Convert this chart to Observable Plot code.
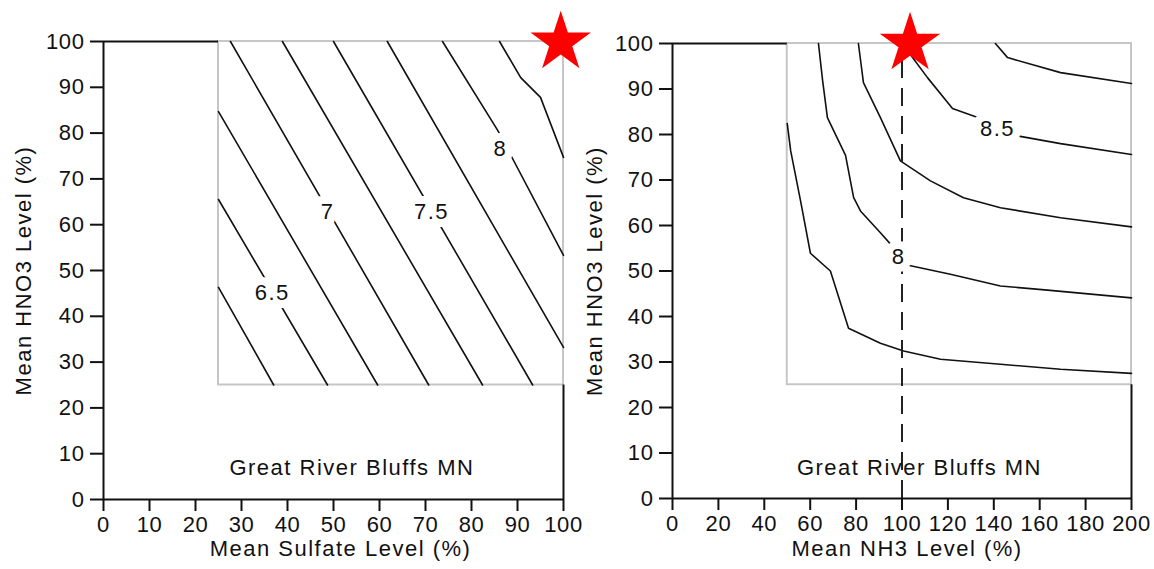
<!DOCTYPE html>
<html>
<head>
<meta charset="utf-8">
<script src="https://cdn.jsdelivr.net/npm/d3@7"></script>
<script src="https://cdn.jsdelivr.net/npm/@observablehq/plot@0.6"></script>
<style>
  body { margin: 0; background: #fff; }
  #wrap { display: flex; width: 1154px; height: 569px; }
  #wrap svg { flex: none; max-width: none; }
  #wrap text { letter-spacing: 1.5px; }
  #wrap g[aria-label$="tick label"] text { letter-spacing: 0.6px; }
</style>
</head>
<body>
<div id="wrap"></div>
<script>
// ---------- data ----------
const yTicks = [0, 10, 20, 30, 40, 50, 60, 70, 80, 90, 100];
const sulfateTicks = [0, 10, 20, 30, 40, 50, 60, 70, 80, 90, 100];
const nh3Ticks = [0, 20, 40, 60, 80, 100, 120, 140, 160, 180, 200];

const siteName = "Great River Bluffs MN";
const yTitle = "Mean HNO3 Level (%)";
const sulfateTitle = "Mean Sulfate Level (%)";
const nh3Title = "Mean NH3 Level (%)";

// region where response surface was evaluated
const sulfateBox = [{x1: 25, x2: 100, y1: 25, y2: 100}];
const nh3Box = [{x1: 50, x2: 200, y1: 25, y2: 100}];

// contour lines (Sulfate %, HNO3 %)
const sulfateContours = [
  {level: 6.25, pts: [[25, 46.3], [37, 25]]},
  {level: 6.5,  pts: [[25, 65.5], [48.7, 25]]},
  {level: 6.75, pts: [[25, 84.7], [59.6, 25]]},
  {level: 7,    pts: [[27.6, 100], [70.7, 25]]},
  {level: 7.25, pts: [[38.9, 100], [82.4, 25]]},
  {level: 7.5,  pts: [[50, 100], [93.3, 25]]},
  {level: 7.75, pts: [[61.7, 100], [100, 33.2]]},
  {level: 8,    pts: [[73.7, 100], [85.7, 80.6], [100, 53.3]]},
  {level: 8.25, pts: [[86.1, 100], [90.7, 92.1], [95, 87.8], [100, 74.7]]}
];

// contour lines (NH3 %, HNO3 %)
const nh3Contours = [
  {level: 7.75, pts: [[50, 82.4], [51.5, 76.4], [55.8, 65.4], [60.1, 53.9], [68.8, 50], [76.7, 37.4], [90.6, 34.1], [100.7, 32.4], [116.8, 30.6], [142.9, 29.5], [169.1, 28.4], [200, 27.5]]},
  {level: 8,    pts: [[63.6, 100], [65.4, 91.9], [67.5, 83.7], [75.4, 75.4], [78.9, 66.2], [81.9, 63.2], [90.6, 58.4], [95, 55.9], [98, 53.1], [100.7, 51.5], [121.1, 49.3], [142.9, 46.7], [163.4, 45.8], [200, 44.1]]},
  {level: 8.25, pts: [[81, 100], [83.2, 91.4], [90.6, 83.7], [99.3, 74.2], [112.4, 69.8], [126.8, 66.1], [142.9, 63.9], [169.1, 61.7], [200, 59.7]]},
  {level: 8.5,  pts: [[100, 100], [103.3, 97.8], [111.1, 92.5], [122, 85.7], [133.3, 83.7], [141.6, 81.3], [150.3, 79.7], [169.1, 78], [200, 75.6]]},
  {level: 8.75, pts: [[140.7, 100], [146, 96.9], [169.1, 93.6], [200, 91.2]]}
];

const sulfateLabels = [
  {x: 36.7, y: 45, text: "6.5"},
  {x: 48.7, y: 62.7, text: "7"},
  {x: 71.3, y: 62.7, text: "7.5"},
  {x: 86.3, y: 76.6, text: "8"}
];
const nh3Labels = [
  {x: 98.5, y: 53, text: "8"},
  {x: 141.6, y: 81.3, text: "8.5"}
];

const sulfateSite = [{x: 54, y: 6.8, text: siteName}];
const nh3Site = [{x: 107.6, y: 6.8, text: siteName}];

const sulfateStar = [{x: 99.4, y: 99.8}];
const nh3Star = [{x: 103.5, y: 100}];

const nh3Reference = [{x: 100, y1: 0, y2: 100}];

// ---------- drawing ----------
function panel(o) {
  const rows = o.contours.flatMap(c => c.pts.map(([x, y]) => ({x, y, level: c.level})));
  const [x0, x1] = o.xDomain;
  const black = {stroke: "#111", strokeWidth: 2};
  return Plot.plot({
    width: 577,
    height: 569,
    marginLeft: o.marginLeft,
    marginRight: o.marginRight,
    marginTop: o.marginTop,
    marginBottom: o.marginBottom,
    style: {
      fontFamily: '"Liberation Sans", Arial, Helvetica, sans-serif',
      fontSize: "22px",
      overflow: "visible",
      background: "transparent",
      color: "#111"
    },
    x: {domain: o.xDomain},
    y: {domain: [0, 100]},
    marks: [
      Plot.rect(o.box, {x1: "x1", x2: "x2", y1: "y1", y2: "y2", fill: "none", stroke: "#c6c6c6", strokeWidth: 2}),
      Plot.line(rows, {x: "x", y: "y", z: "level", stroke: "#111", strokeWidth: 1.6}),
      o.reference ? Plot.ruleX(o.reference, {x: "x", y1: "y1", y2: "y2", stroke: "#222", strokeWidth: 2, strokeDasharray: "18,10"}) : null,
      Plot.ruleX([x0], {y1: 0, y2: 100, ...black}),
      Plot.ruleY([0], {x1: x0, x2: x1, ...black}),
      Plot.ruleY([100], {x1: x0, x2: o.box[0].x1, ...black}),
      Plot.ruleX([x1], {y1: 0, y2: o.box[0].y1, ...black}),
      Plot.axisX({ticks: o.xTicks, tickSize: 12, tickPadding: 5, strokeWidth: 2, label: null, fontSize: 22}),
      Plot.axisY({ticks: yTicks, tickSize: 13, tickPadding: 6, strokeWidth: 2, label: null, fontSize: 22}),
      Plot.text(o.labels, {x: "x", y: "y", text: "text", fontSize: 22, fill: "#111", stroke: "white", strokeWidth: 16, strokeLinejoin: "round"}),
      Plot.text(o.site, {x: "x", y: "y", text: "text", fontSize: 22, fill: "#111"}),
      Plot.text([o.xTitle], {text: d => d, frameAnchor: "bottom", textAnchor: "middle", dy: o.xTitleDy, dx: o.xTitleDx, fontSize: 22, fill: "#111"}),
      Plot.text([yTitle], {text: d => d, frameAnchor: "left", textAnchor: "middle", dx: o.yTitleDx, rotate: -90, fontSize: 22, fill: "#111"}),
      Plot.dot(o.star, {x: "x", y: "y", symbol: "star", r: 19, fill: "#ff0000", stroke: "none"})
    ]
  });
}

const wrap = document.getElementById("wrap");
wrap.appendChild(panel({
  marginLeft: 103, marginRight: 14, marginTop: 41, marginBottom: 70,
  xDomain: [0, 100], xTicks: sulfateTicks, xTitle: sulfateTitle,
  xTitleDy: 56, xTitleDx: 7, yTitleDx: -80,
  box: sulfateBox, contours: sulfateContours, labels: sulfateLabels,
  site: sulfateSite, star: sulfateStar
}));
wrap.appendChild(panel({
  marginLeft: 95, marginRight: 23, marginTop: 43, marginBottom: 71,
  xDomain: [0, 200], xTicks: nh3Ticks, xTitle: nh3Title,
  xTitleDy: 57, xTitleDx: 5, yTitleDx: -78,
  box: nh3Box, contours: nh3Contours, labels: nh3Labels,
  site: nh3Site, star: nh3Star, reference: nh3Reference
}));
</script>
</body>
</html>
